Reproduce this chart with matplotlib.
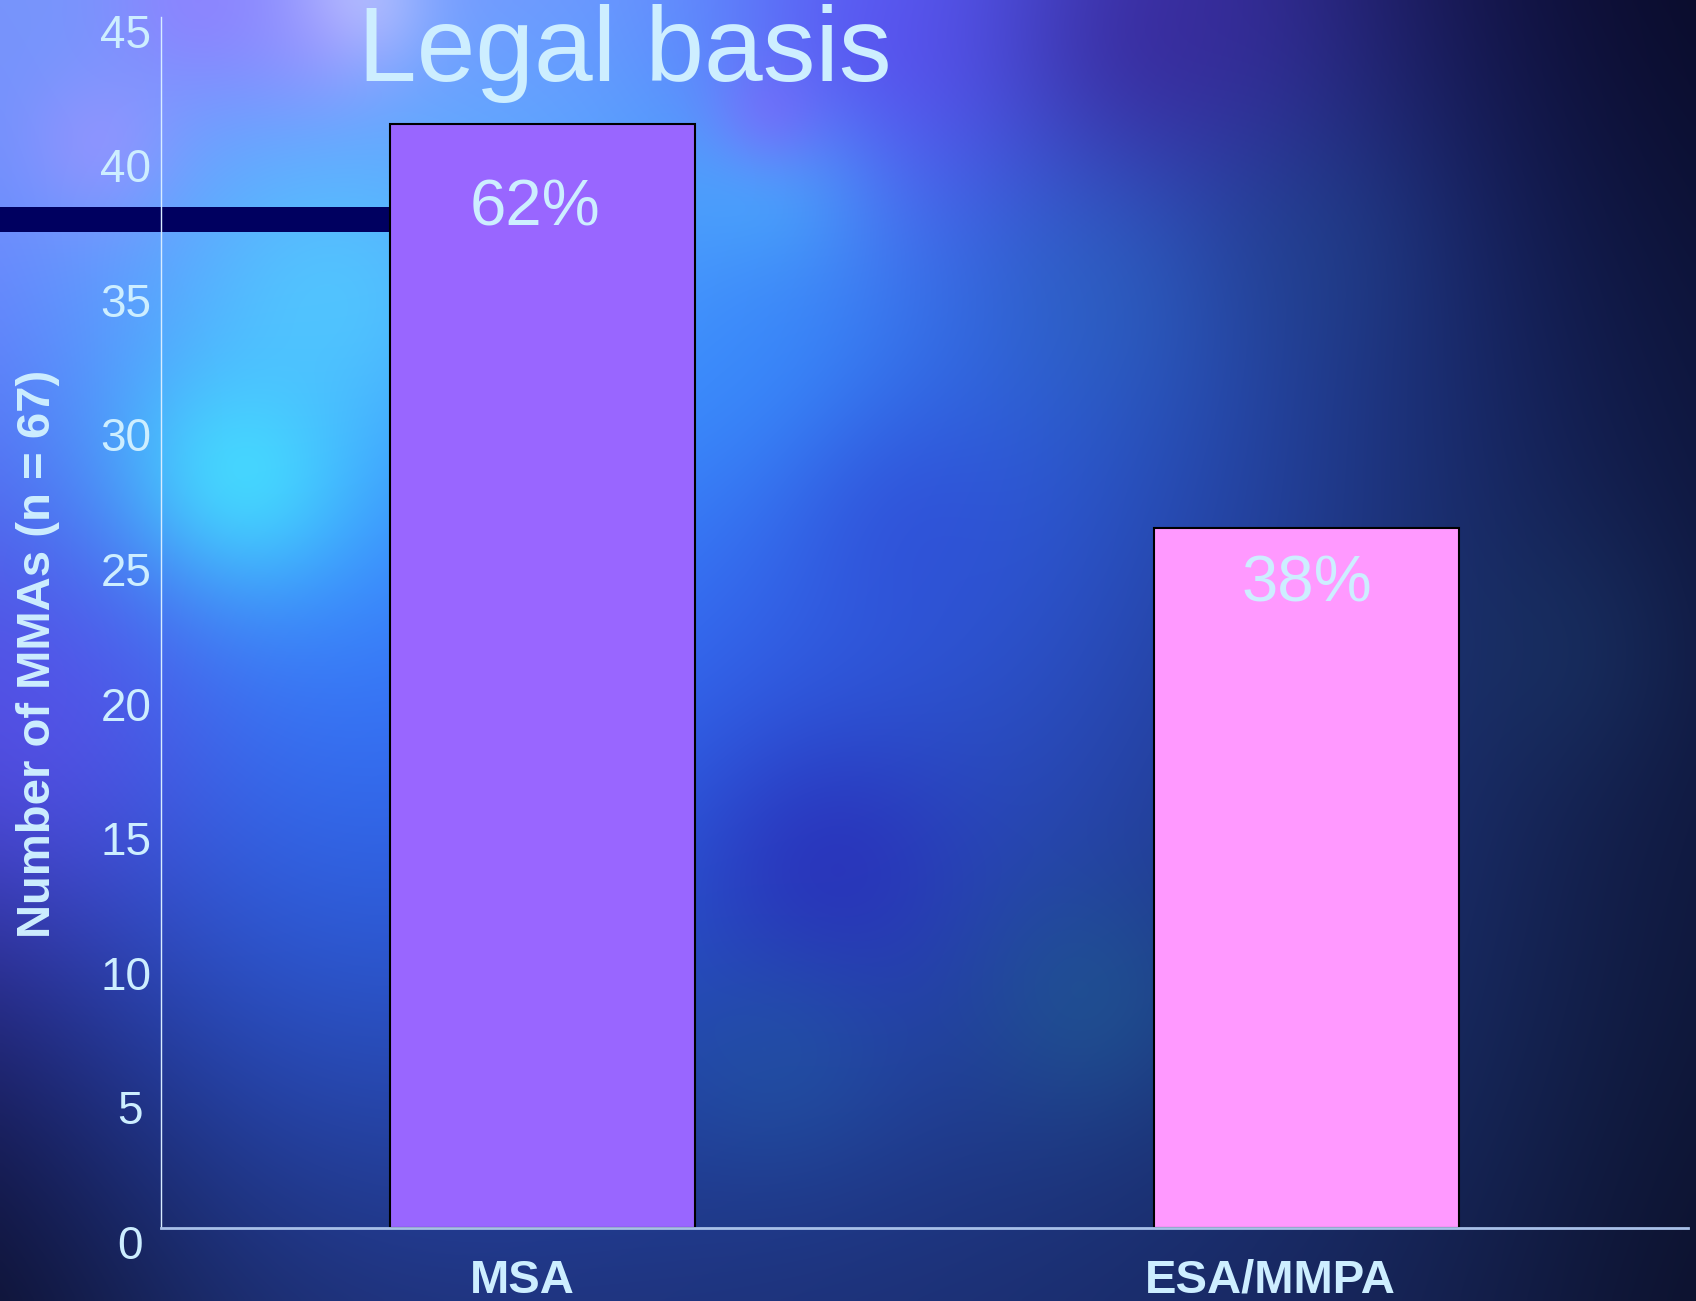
import numpy as np
import matplotlib
matplotlib.use("Agg")
import matplotlib.pyplot as plt
from matplotlib.colors import to_rgb
from matplotlib.patches import Rectangle
from matplotlib.transforms import ScaledTranslation

# data
categories = ["MSA", "ESA/MMPA"]
counts = [41, 26]
percent_labels = ["62%", "38%"]
bar_colors = ["#9966ff", "#ff99ff"]

title = "Legal basis"
y_label = "Number of MMAs (n = 67)"
y_ticks = list(range(0, 46, 5))

TEXT = "#cdeeff"
W, H, DPI = 1696, 1301, 100

plt.rcParams["font.family"] = ["Liberation Sans", "DejaVu Sans"]

# ---- slide backdrop -------------------------------------------------------
# coarse colour field (pixel rows / columns), blended with gaussian weights
grid_y = [0, 216, 433, 649, 865, 1082, 1301]
grid_x = [0, 212, 424, 636, 848, 1060, 1272, 1484, 1696]
grid_colors = [
    ["#7a94f8", "#7a9cff", "#8890ff", "#6a9cff", "#6070ff", "#4a48e0", "#30288a", "#101040", "#080820"],
    ["#7a84ff", "#58b0ff", "#58b8ff", "#50b0ff", "#4088f8", "#3060e0", "#2a3aa0", "#14205a", "#0a0e2c"],
    ["#5a68f8", "#40caff", "#3aa0ff", "#3a88ff", "#3070f0", "#2c5cd8", "#22449c", "#182866", "#0c1234"],
    ["#4a48d8", "#3a80ff", "#3a78ff", "#3a68f8", "#3058e0", "#2c50c8", "#223c94", "#1a2c64", "#0e1438"],
    ["#3a2ca8", "#3064e8", "#3064e8", "#2858e0", "#2844c0", "#2848b0", "#1e3480", "#182a60", "#0e1436"],
    ["#141448", "#2848b8", "#2a4cb8", "#2244a8", "#2242a0", "#204090", "#1a3272", "#16285a", "#0c122e"],
    ["#080818", "#1a2a62", "#1e2e72", "#1e3072", "#1c2e70", "#1a2a68", "#182660", "#141e48", "#0a0c22"],
]

# local cloud features: (x px, y px, radius px, colour, strength)
clouds = [
    (350, 0, 50, "#e8eeff", 0.55),
    (200, 0, 70, "#a070ff", 0.5),
    (310, 40, 60, "#9a80ff", 0.4),
    (100, 145, 55, "#b090ff", 0.45),
    (240, 475, 80, "#44eaff", 0.75),
    (330, 300, 90, "#52d4ff", 0.55),
    (780, 160, 70, "#40d0ff", 0.6),
    (770, 110, 45, "#a060ff", 0.45),
    (880, 55, 110, "#6040f0", 0.55),
    (1150, 40, 110, "#3a1c88", 0.5),
    (20, 720, 120, "#6050f0", 0.55),
    (760, 380, 90, "#3890ff", 0.45),
    (830, 870, 90, "#2a28b8", 0.6),
    (900, 520, 90, "#3040d0", 0.4),
    (1100, 290, 90, "#2a6ab8", 0.35),
    (1090, 1000, 80, "#1e6090", 0.45),
    (1310, 250, 90, "#1e4c88", 0.3),
    (780, 1060, 80, "#2060a0", 0.35),
    (1560, 650, 90, "#1a3868", 0.4),
]

ny, nx = 326, 424
yy, xx = np.meshgrid(np.linspace(0, H, ny), np.linspace(0, W, nx), indexing="ij")
acc = np.zeros((ny, nx, 3))
wsum = np.zeros((ny, nx))
for gy, row in zip(grid_y, grid_colors):
    for gx, c in zip(grid_x, row):
        w = np.exp(-(((xx - gx) / 150) ** 2 + ((yy - gy) / 150) ** 2) / 2)
        acc += w[..., None] * np.array(to_rgb(c))
        wsum += w
bg = acc / wsum[..., None]
for cx, cy, r, c, s in clouds:
    g = s * np.exp(-((xx - cx) ** 2 + (yy - cy) ** 2) / (2 * r ** 2))
    bg += g[..., None] * (np.array(to_rgb(c)) - bg)
bg = np.clip(bg, 0, 1)

fig = plt.figure(figsize=(W / DPI, H / DPI), dpi=DPI)

bg_ax = fig.add_axes([0, 0, 1, 1], zorder=0)
bg_ax.imshow(bg, extent=[0, 1, 0, 1], aspect="auto", interpolation="bicubic")
bg_ax.set_xlim(0, 1)
bg_ax.set_ylim(0, 1)
bg_ax.axis("off")
# dark template stripe running in from the left edge
bg_ax.add_patch(Rectangle((0, 1 - 232 / H), 540 / W, 25 / H, color="#000060", lw=0))

# ---- chart ----------------------------------------------------------------
ax = fig.add_axes([161 / W, 1 - 1228 / H, (1688 - 161) / W, (1228 - 16.7) / H], zorder=1)
ax.set_facecolor("none")

x = np.arange(len(categories))
bars = ax.bar(x, counts, width=0.4, color=bar_colors, edgecolor="black", linewidth=1.5)

ax.set_xlim(-0.5, 1.5)
ax.set_ylim(0, 45)
ax.set_yticks(y_ticks)
ax.set_xticks(x)
ax.set_xticklabels(categories, fontsize=34, fontweight="bold", color=TEXT)
ax.tick_params(axis="y", length=0, pad=7, labelsize=33, labelcolor=TEXT)
ax.tick_params(axis="x", length=0, pad=22)

for lbl, val in zip(ax.get_yticklabels(), y_ticks):
    dx = -9 if val < 10 else 0
    lbl.set_transform(lbl.get_transform() + ScaledTranslation(dx / DPI, -14 / DPI, fig.dpi_scale_trans))
for lbl, dx in zip(ax.get_xticklabels(), [-20, -36]):
    lbl.set_transform(lbl.get_transform() + ScaledTranslation(dx / DPI, 0, fig.dpi_scale_trans))

for side in ["top", "right"]:
    ax.spines[side].set_visible(False)
ax.spines["left"].set_color("#d8ecff")
ax.spines["left"].set_linewidth(1)
ax.spines["bottom"].set_color("#a8c0e8")
ax.spines["bottom"].set_linewidth(2)

# percentage labels inside the bars
for bar, txt, dx, drop in zip(bars, percent_labels, [-8, 1], [101, 73]):
    ax.annotate(txt, (bar.get_x() + bar.get_width() / 2, bar.get_height()),
                xytext=(dx * 72 / DPI, -drop * 72 / DPI), textcoords="offset points",
                ha="center", va="baseline", fontsize=47, color=TEXT)

fig.text(625 / W, 1 - 81 / H, title, ha="center", va="baseline", fontsize=76, color=TEXT)
fig.text(38 / W, 1 - 654 / H, y_label, rotation=90, ha="center", va="center",
         fontsize=34, fontweight="bold", color=TEXT)

fig.savefig("out.png", dpi=DPI)
